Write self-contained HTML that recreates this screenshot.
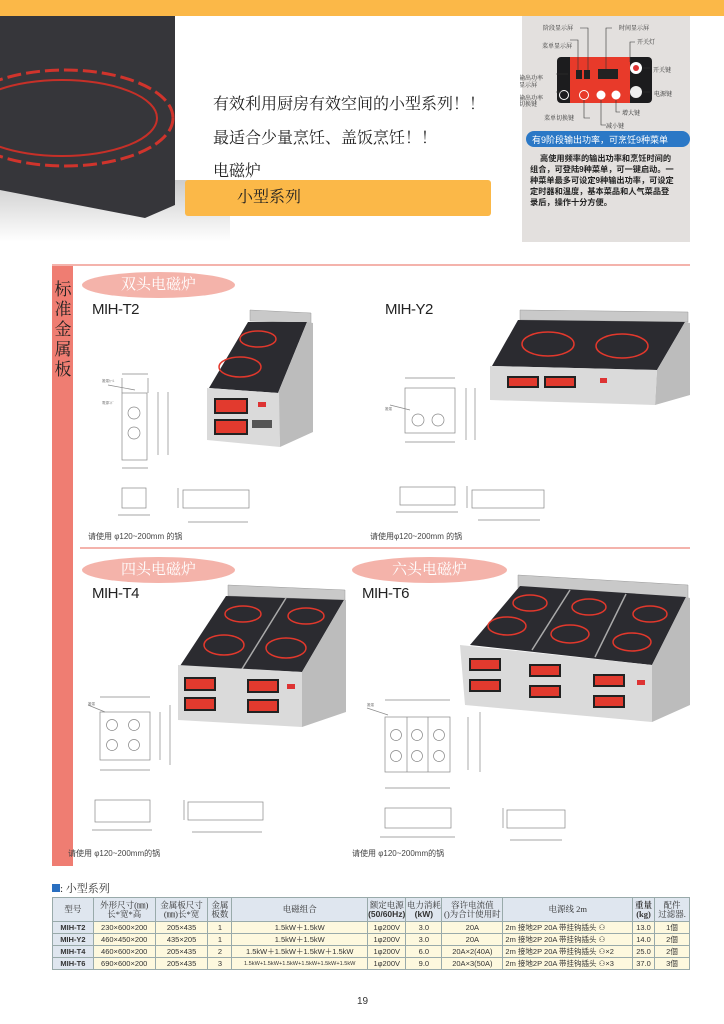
<!DOCTYPE html>
<html><head><meta charset="utf-8"><style>
body{margin:0;width:724px;height:1024px;background:#fff;position:relative;overflow:hidden;font-family:"Liberation Sans","Noto Sans CJK SC",sans-serif;}
.a{position:absolute;}
.serif{font-family:"Liberation Serif","Noto Serif CJK SC",serif;}
.pill{position:absolute;background:#f4b3aa;border-radius:50%;color:#fff;text-align:center;font-family:"Liberation Serif","Noto Serif CJK SC",serif;font-size:15px;}
.model{position:absolute;font-size:15px;color:#222;letter-spacing:-0.5px;}
.note{position:absolute;font-size:8px;color:#444;}
table{border-collapse:collapse;position:absolute;left:52px;top:897px;width:638px;font-size:7.5px;color:#333;}
td{border:1px solid #9aa;text-align:center;padding:0;height:11px;line-height:10px;white-space:nowrap;overflow:hidden;}
tr.h td{background:#dfe6ef;height:23px;font-family:"Liberation Serif","Noto Serif CJK SC",serif;font-size:8.5px;line-height:9px;}
tr.d td{background:#fdf8de;}
tr.d td.m{background:#dfe6ef;font-weight:bold;}
</style></head><body>
<div class="a" style="left:0;top:0;width:724px;height:16px;background:#fbb848"></div>
<svg class="a" style="left:0;top:0" width="724" height="1024">
<defs><linearGradient id="fl" x1="0" y1="0" x2="0" y2="1"><stop offset="0" stop-color="#c4c4c4"/><stop offset="1" stop-color="#fff"/></linearGradient></defs>
<rect x="0" y="170" width="230" height="72" fill="url(#fl)"/>
<polygon points="0,16 175,16 175,205 145,218 0,190" fill="#36363a"/>
<ellipse cx="65" cy="118" rx="108" ry="48" fill="none" stroke="#d0342c" stroke-width="3" stroke-dasharray="14 5"/>
<ellipse cx="62" cy="118" rx="95" ry="38" fill="none" stroke="#c63028" stroke-width="2"/>
<rect x="522" y="16" width="168" height="226" fill="#e3e0de"/>
<rect x="557" y="57" width="95" height="46" rx="4" fill="#1c1c1e"/>
<rect x="570" y="57" width="60" height="46" fill="#e83a2a"/>
<rect x="576" y="70" width="6" height="9" fill="#222"/><rect x="584" y="70" width="6" height="9" fill="#222"/><rect x="598" y="69" width="20" height="10" fill="#222"/>
<circle cx="584" cy="95" r="4.5" fill="none" stroke="#fff"/><circle cx="601" cy="95" r="4.5" fill="#fff"/><circle cx="616" cy="95" r="4.5" fill="#fff"/>
<circle cx="636" cy="68" r="6" fill="#fff"/><circle cx="636" cy="68" r="3" fill="#d33"/><circle cx="636" cy="92" r="6" fill="#eee"/>
<circle cx="564" cy="95" r="4.5" fill="none" stroke="#fff"/>
<g stroke="#333" stroke-width="0.6" fill="none"><path d="M578 70V40H570M588 70V28H580M606 69V28H612M630 62V42H635M643 68H650M643 92H650M564 92H556M584 100V118H590M601 100V125H606M616 100V112H620M568 74H556"/></g>
<g font-size="6" fill="#333" font-family="Liberation Serif,Noto Serif CJK SC,serif">
<text x="543" y="30">阶段显示屏</text><text x="619" y="30">时间显示屏</text><text x="542" y="48">菜单显示屏</text><text x="637" y="44">开关灯</text>
<text x="519" y="80">输出功率</text><text x="519" y="87">显示屏</text><text x="519" y="100">输出功率</text><text x="519" y="106">切换键</text>
<text x="653" y="72">开关键</text><text x="654" y="96">电源键</text><text x="622" y="115">增大键</text><text x="544" y="120">菜单切换键</text><text x="606" y="128">减小键</text></g>
<rect x="526" y="131" width="164" height="16" rx="8" fill="#2b78c6"/>
<text x="532" y="143" font-size="9" fill="#fff" font-family="Liberation Sans,Noto Sans CJK SC,sans-serif">有9阶段输出功率，可烹饪9种菜单</text>
<g font-size="8.2" font-weight="bold" fill="#222" font-family="Liberation Sans,Noto Sans CJK SC,sans-serif">
<text x="540" y="161">高使用频率的输出功率和烹饪时间的</text><text x="530" y="172">组合，可登陆9种菜单，可一键启动。一</text><text x="530" y="183">种菜单最多可设定9种输出功率，可设定</text><text x="530" y="194">定时器和温度，基本菜品和人气菜品登</text><text x="530" y="205">录后，操作十分方便。</text></g>
<line x1="52" y1="265" x2="690" y2="265" stroke="#f19a90" stroke-width="1.5"/>
<line x1="80" y1="548" x2="690" y2="548" stroke="#f19a90" stroke-width="1.5"/>
<rect x="52" y="266" width="21" height="600" fill="#ef7d72"/>
<polygon points="250,310 311,313 311,323 250,321" fill="#c9c9c9" stroke="#999" stroke-width=".5"/>
<polygon points="248,322 307,322 278,393 209,388" fill="#2b2b30"/>
<polygon points="307,322 313,323 313,432 280,447 278,393" fill="#bcbcbc"/>
<polygon points="207,388 279,393 280,447 207,440" fill="#dadada"/>
<ellipse cx="258" cy="339" rx="18" ry="8" fill="none" stroke="#e2382c" stroke-width="1.5"/>
<ellipse cx="240" cy="367" rx="21" ry="10" fill="none" stroke="#e2382c" stroke-width="1.5"/>
<rect x="215" y="399" width="32" height="14" fill="#e23a2e" stroke="#222" stroke-width="2"/><rect x="215" y="420" width="32" height="14" fill="#e23a2e" stroke="#222" stroke-width="2"/>
<rect x="258" y="402" width="8" height="5" fill="#d33"/><rect x="252" y="420" width="20" height="8" fill="#555"/>
<polygon points="520,310 688,312 688,322 520,320" fill="#c9c9c9" stroke="#999" stroke-width=".5"/>
<polygon points="518,320 685,322 657,370 492,366" fill="#2b2b30"/>
<polygon points="685,322 690,323 690,395 655,405 657,370" fill="#bcbcbc"/>
<polygon points="490,366 657,370 655,405 490,400" fill="#dadada"/>
<ellipse cx="548" cy="344" rx="26" ry="12" fill="none" stroke="#e2382c" stroke-width="1.5"/>
<ellipse cx="622" cy="346" rx="26" ry="12" fill="none" stroke="#e2382c" stroke-width="1.5"/>
<rect x="508" y="377" width="30" height="10" fill="#e23a2e" stroke="#222" stroke-width="2"/><rect x="545" y="377" width="30" height="10" fill="#e23a2e" stroke="#222" stroke-width="2"/>
<rect x="600" y="378" width="7" height="5" fill="#d33"/>
<polygon points="228,585 345,590 345,600 228,596" fill="#c9c9c9" stroke="#999" stroke-width=".5"/>
<polygon points="226,596 344,600 302,672 180,666" fill="#2b2b30"/>
<line x1="286" y1="598" x2="242" y2="669" stroke="#aaa" stroke-width="1.5"/>
<polygon points="344,600 346,600 346,712 302,727 302,672" fill="#bcbcbc"/>
<polygon points="178,665 302,672 302,727 178,720" fill="#dadada"/>
<g fill="none" stroke="#e2382c" stroke-width="1.5"><ellipse cx="243" cy="614" rx="18" ry="8"/><ellipse cx="306" cy="616" rx="18" ry="8"/><ellipse cx="224" cy="645" rx="20" ry="10"/><ellipse cx="286" cy="648" rx="20" ry="10"/></g>
<g fill="#e23a2e" stroke="#222" stroke-width="2"><rect x="185" y="678" width="30" height="12"/><rect x="185" y="698" width="30" height="12"/><rect x="248" y="680" width="30" height="12"/><rect x="248" y="700" width="30" height="12"/></g>
<rect x="287" y="684" width="8" height="5" fill="#d33"/>
<polygon points="518,575 688,585 688,598 518,588" fill="#c9c9c9" stroke="#999" stroke-width=".5"/>
<polygon points="520,586 686,597 652,665 470,645" fill="#2b2b30"/>
<line x1="570" y1="590" x2="532" y2="650" stroke="#aaa" stroke-width="1.5"/><line x1="626" y1="594" x2="595" y2="657" stroke="#aaa" stroke-width="1.5"/>
<polygon points="686,597 690,598 690,705 652,722 652,665" fill="#bcbcbc"/>
<polygon points="460,645 652,665 652,722 465,705" fill="#dadada"/>
<g fill="none" stroke="#e2382c" stroke-width="1.5"><ellipse cx="530" cy="603" rx="17" ry="8"/><ellipse cx="589" cy="607" rx="17" ry="8"/><ellipse cx="650" cy="614" rx="17" ry="8"/><ellipse cx="507" cy="626" rx="19" ry="9"/><ellipse cx="570" cy="634" rx="19" ry="9"/><ellipse cx="632" cy="642" rx="19" ry="9"/></g>
<g fill="#e23a2e" stroke="#222" stroke-width="2"><rect x="470" y="659" width="30" height="11"/><rect x="470" y="680" width="30" height="11"/><rect x="530" y="665" width="30" height="11"/><rect x="530" y="686" width="30" height="11"/><rect x="594" y="675" width="30" height="11"/><rect x="594" y="696" width="30" height="11"/></g>
<rect x="637" y="680" width="8" height="5" fill="#d33"/>
<g fill="none" stroke="#888" stroke-width="0.7">
<rect x="122" y="393" width="25" height="67"/><circle cx="134" cy="413" r="6"/><circle cx="134" cy="433" r="6"/>
<path d="M122 374H148M122 378V393M148 378V393M158 392V455M168 392V455M122 468H148M108 385L135 390"/>
<rect x="122" y="488" width="24" height="20"/><path d="M118 515H150"/>
<rect x="183" y="490" width="66" height="18"/><path d="M178 488V508M188 522H248"/>
<rect x="405" y="388" width="50" height="45"/><circle cx="418" cy="420" r="6"/><circle cx="438" cy="420" r="6"/>
<path d="M405 378H455M466 388V440M475 388V440M405 442H455M390 405L410 410"/>
<rect x="400" y="487" width="55" height="18"/><path d="M396 512H458"/>
<rect x="472" y="490" width="72" height="18"/><path d="M467 486V508M478 520H540"/>
<rect x="100" y="712" width="50" height="48"/><circle cx="112" cy="725" r="5.5"/><circle cx="134" cy="725" r="5.5"/><circle cx="112" cy="745" r="5.5"/><circle cx="134" cy="745" r="5.5"/>
<path d="M100 697H150M160 712V760M170 705V765M100 770H150M88 705L105 712"/>
<rect x="95" y="800" width="55" height="22"/><path d="M92 830H152"/>
<rect x="188" y="802" width="75" height="18"/><path d="M184 800V820M192 832H262"/>
<rect x="385" y="717" width="65" height="55"/><path d="M407 717V772M428 717V772"/>
<circle cx="396" cy="735" r="5.5"/><circle cx="417" cy="735" r="5.5"/><circle cx="439" cy="735" r="5.5"/><circle cx="396" cy="756" r="5.5"/><circle cx="417" cy="756" r="5.5"/><circle cx="439" cy="756" r="5.5"/>
<path d="M385 700H450M468 717V770M480 712V772M385 788H450M367 708L388 715"/>
<rect x="385" y="808" width="66" height="20"/><path d="M380 837H455"/>
<rect x="507" y="810" width="58" height="18"/><path d="M503 808V828M510 840H562"/>
</g>
<g font-size="3.5" fill="#777"><text x="102" y="382">搬運ｶｰﾙ</text><text x="102" y="404">電源ｺﾄﾞ</text><text x="385" y="410">搬運</text><text x="88" y="705">搬運</text><text x="367" y="706">搬運</text></g>
</svg>
<div class="a serif" style="left:53px;top:280px;width:20px;font-size:17px;line-height:20px;color:#222;text-align:center">标准金属板</div>
<div class="a" style="left:175px;top:35px;width:345px;height:145px;background:#fff"></div>
<div class="a serif" style="left:213px;top:88px;font-size:16px;color:#222;line-height:33.5px">有效利用厨房有效空间的小型系列！！<br>最适合少量烹饪、盖饭烹饪！！<br>电磁炉</div>
<div class="a serif" style="left:185px;top:180px;width:306px;height:36px;background:#fbb848;border-radius:3px;font-size:16px;line-height:36px;color:#222"><span style="padding-left:52px">小型系列</span></div>
<div class="pill" style="left:82px;top:272px;width:153px;height:26px;line-height:26px">双头电磁炉</div>
<div class="pill" style="left:82px;top:557px;width:153px;height:26px;line-height:26px">四头电磁炉</div>
<div class="pill" style="left:352px;top:557px;width:155px;height:26px;line-height:26px">六头电磁炉</div>
<div class="model" style="left:92px;top:301px">MIH-T2</div>
<div class="model" style="left:385px;top:301px">MIH-Y2</div>
<div class="model" style="left:92px;top:585px">MIH-T4</div>
<div class="model" style="left:362px;top:585px">MIH-T6</div>
<div class="note" style="left:88px;top:531px">请使用 φ120~200mm 的锅</div>
<div class="note" style="left:370px;top:531px">请使用φ120~200mm 的锅</div>
<div class="note" style="left:68px;top:848px">请使用 φ120~200mm的锅</div>
<div class="note" style="left:352px;top:848px">请使用 φ120~200mm的锅</div>
<div class="a serif" style="left:52px;top:880px;font-size:11px;color:#333"><span style="display:inline-block;width:8px;height:8px;background:#2a6fc0"></span>: 小型系列</div>
<table>
<colgroup><col style="width:41px"><col style="width:62px"><col style="width:53px"><col style="width:24px"><col style="width:136px"><col style="width:38px"><col style="width:36px"><col style="width:61px"><col style="width:130px"><col style="width:22px"><col style="width:35px"></colgroup>
<tr class="h"><td>型号</td><td>外形尺寸(㎜)<br>长*宽*高</td><td>金属板尺寸<br>(㎜)长*宽</td><td>金属<br>板数</td><td>电磁组合</td><td>额定电源<br><b style="font-family:Liberation Sans">(50/60Hz)</b></td><td>电力消耗<br><b style="font-family:Liberation Sans">(kW)</b></td><td>容许电流值<br>()为合计使用时</td><td>电源线 2m</td><td><b>重量<br>(kg)</b></td><td>配件<br>过滤器.</td></tr>
<tr class="d"><td class="m">MIH-T2</td><td>230×600×200</td><td>205×435</td><td>1</td><td>1.5kW＋1.5kW</td><td>1φ200V</td><td>3.0</td><td>20A</td><td style="text-align:left">&nbsp;2m 接地2P 20A 带挂钩插头 ⚇</td><td>13.0</td><td>1個</td></tr>
<tr class="d"><td class="m">MIH-Y2</td><td>460×450×200</td><td>435×205</td><td>1</td><td>1.5kW＋1.5kW</td><td>1φ200V</td><td>3.0</td><td>20A</td><td style="text-align:left">&nbsp;2m 接地2P 20A 带挂钩插头 ⚇</td><td>14.0</td><td>2個</td></tr>
<tr class="d"><td class="m">MIH-T4</td><td>460×600×200</td><td>205×435</td><td>2</td><td>1.5kW＋1.5kW＋1.5kW＋1.5kW</td><td>1φ200V</td><td>6.0</td><td>20A×2(40A)</td><td style="text-align:left">&nbsp;2m 接地2P 20A 带挂钩插头 ⚇×2</td><td>25.0</td><td>2個</td></tr>
<tr class="d"><td class="m">MIH-T6</td><td>690×600×200</td><td>205×435</td><td>3</td><td style="font-size:5.6px">1.5kW+1.5kW+1.5kW+1.5kW+1.5kW+1.5kW</td><td>1φ200V</td><td>9.0</td><td>20A×3(50A)</td><td style="text-align:left">&nbsp;2m 接地2P 20A 带挂钩插头 ⚇×3</td><td>37.0</td><td>3個</td></tr>
</table>
<div class="a" style="left:357px;top:996px;font-size:10px;color:#333">19</div>
</body></html>
